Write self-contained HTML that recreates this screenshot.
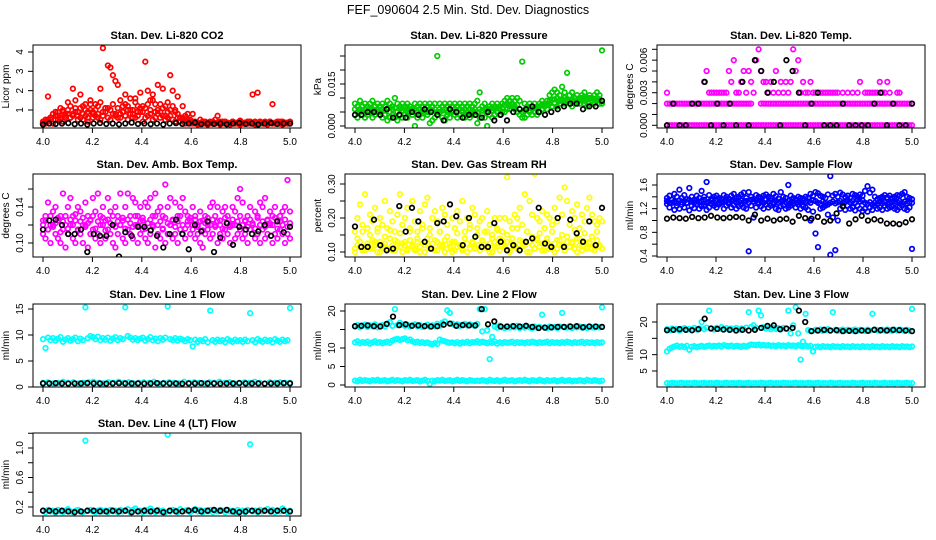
<!DOCTYPE html>
<html><head><meta charset="utf-8"><style>
html,body{margin:0;padding:0;background:#fff;}
svg{display:block;font-family:"Liberation Sans",sans-serif;}
</style></head><body>
<svg id="chart" width="936" height="540" viewBox="0 0 936 540" xmlns="http://www.w3.org/2000/svg">
<rect width="936" height="540" fill="#fff"/>
<text x="468" y="14" text-anchor="middle" font-size="12.5">FEF_090604  2.5 Min. Std. Dev. Diagnostics</text>
</svg>
<script>
// ---- data (x runs evenly 4.0 -> 5.0 over each array) ----
const xTicks = [4.0, 4.2, 4.4, 4.6, 4.8, 5.0];
const xTickLabels = ["4.0", "4.2", "4.4", "4.6", "4.8", "5.0"];

const co2RedA = [0.3,0.4,1.7,0.5,0.3,0.9,0.5,1.1,0.4,0.8,1.4,0.6,2.1,1.5,0.7,
1.8,0.5,1.0,0.4,1.5,0.8,1.3,0.6,2.1,4.2,1.1,3.3,3.2,2.8,2.5,
2.3,0.8,1.2,1.8,1.0,1.6,0.6,1.4,0.9,1.9,1.2,3.5,2.0,1.5,1.8,
0.9,2.3,1.3,2.1,0.7,1.4,2.8,2.0,1.0,1.7,0.6,1.2,0.5,0.8,0.4,
0.8,0.4,0.3,0.5,0.3,0.4,0.3,0.4,0.3,0.5,0.7,0.4,0.3,0.4,0.3,
0.3,0.4,0.3,0.3,0.4,0.3,0.3,0.4,0.3,1.8,0.4,1.9,0.4,0.3,0.4,
0.3,0.4,1.3,0.3,0.4,0.3,0.4,0.3,0.3,0.4];
const co2RedB = [0.4,0.3,0.5,0.6,0.3,0.7,0.9,0.5,1.0,0.6,0.8,1.2,0.7,0.9,0.5,1.1,0.8,1.3,0.6,1.0,0.9,0.7,1.2,0.5,0.9,1.1,0.6,1.0,0.8,0.7,
1.1,0.6,0.9,1.3,0.5,1.0,0.8,0.6,1.2,0.9,0.4,1.1,0.7,1.0,0.5,1.3,0.8,0.6,1.1,0.5,0.9,0.7,1.2,0.4,0.8,0.6,0.5,0.7,0.4,0.5,
0.3,0.35,0.25,0.3,0.4,0.3,0.25,0.35,0.3,0.3,0.35,0.25,0.3,0.4,0.3,0.25,0.3,0.35,0.3,0.25,0.3,0.35,0.3,0.4,0.3,0.25,0.3,0.35,0.3,0.3,0.25,0.35,0.3,0.3,0.4,0.3,0.25,0.3,0.35,0.3];
const co2RedC = [0.3,0.5,0.4,0.6,0.8,0.5,0.7,0.6,0.9,0.7,1.0,0.6,0.8,1.1,0.9,0.6,1.2,0.7,0.9,1.3,0.6,1.0,0.8,1.4,0.7,0.9,1.1,0.5,1.3,0.8,
0.6,1.5,0.9,0.7,1.2,0.8,1.0,1.6,0.7,1.1,0.9,0.6,1.3,0.8,1.5,0.6,1.0,0.9,0.7,1.2,0.6,1.0,0.5,0.9,0.6,0.4,0.6,0.3,0.5,0.3,
0.4,0.3,0.35,0.3,0.4,0.3,0.35,0.3,0.4,0.3,0.35,0.3,0.4,0.3,0.35,0.3,0.4,0.3,0.35,0.45,0.3,0.35,0.3,0.4,0.3,0.35,0.3,0.4,0.3,0.35,0.3,0.4,0.3,0.35,0.3,0.4,0.3,0.35,0.3,0.3];
const co2Black = [0.25,0.3,0.28,0.3,0.32,0.27,0.3,0.25,0.3,0.33,0.28,0.3,0.26,0.3,0.35,0.28,0.3,0.27,0.3,0.25,0.3,0.32,0.28,0.3,0.35,0.27,0.3,0.28,0.3,0.26,0.3,0.33,0.28,0.3,0.25,0.3,0.32,0.28,0.3,0.3];

const presA = [.008,.007,.009,.007,.008,.007,.008,.009,.007,.008,.007,.008,.007,.009,.008,.007,.010,.008,.007,.008,
.007,.008,.007,.006,.008,.007,.008,.007,.008,.007,.008,.007,.008,.025,.008,.007,.008,.007,.008,.007,
.008,.007,.008,.007,.008,.007,.008,.007,.008,.009,.012,.007,.008,.006,.007,.008,.007,.008,.007,.008,
.009,.010,.009,.010,.009,.010,.009,.023,.008,.007,.008,.007,.008,.007,.008,.009,.008,.009,.011,.012,
.013,.012,.011,.014,.012,.019,.011,.012,.010,.011,.010,.011,.012,.010,.011,.010,.011,.012,.011,.027];
const presB = [.004,.003,.005,.004,.003,.004,.005,.003,.004,.005,.004,.003,.004,.002,.003,.004,.003,.002,.004,.003,
.004,.003,.005,.004,.000,.003,.004,.003,.005,.004,.001,.002,.003,.004,.005,.003,.002,.004,.003,.005,
.004,.003,.004,.005,.003,.004,.003,.004,.005,.001,.003,.004,.003,.000,.004,.003,.004,.005,.004,.005,
.005,.006,.006,.007,.006,.005,.004,.003,.003,.004,.005,.004,.005,.004,.005,.006,.007,.006,.008,.007,
.008,.007,.008,.009,.008,.009,.008,.007,.008,.009,.008,.009,.008,.007,.008,.009,.008,.009,.008,.008];
const presC = [.006,.005,.006,.0055,.006,.005,.0065,.006,.0055,.006,.005,.006,.0055,.006,.005,.006,.0065,.005,.006,.0055,
.006,.005,.006,.0055,.006,.005,.006,.0055,.006,.005,.006,.0055,.006,.005,.006,.0055,.006,.005,.006,.0055,
.006,.005,.006,.0055,.006,.005,.006,.0055,.006,.005,.006,.0055,.006,.005,.006,.0055,.006,.005,.006,.0065,
.0075,.008,.0075,.008,.007,.0075,.006,.005,.0055,.006,.0055,.006,.0065,.006,.007,.0075,.008,.0075,.009,.0095,
.0095,.01,.009,.0095,.01,.0095,.009,.0095,.01,.009,.0095,.01,.009,.0095,.01,.009,.0095,.01,.0095,.009];
const presBlack = [.004,.004,.005,.005,.004,.006,.003,.004,.003,.005,.004,.006,.005,.004,.002,.006,.005,.003,.004,.004,.003,.005,.002,.004,.002,.005,.006,.006,.007,.005,.004,.005,.006,.007,.008,.008,.006,.007,.007,.009];

const tempA = [0,0,0,0,0,0,0,0,0,0,0,0,0,0,0,0,0,0,0,0,
0,0,0,0,0,0,0,0,0,0,0,0,0,0,0,0,0,0,0,0,
0,0,0,0,0,0,0,0,0,0,0,0,0,0,0,0,0,0,0,0,
0,0,0,0,0,0,0,0,0,0,0,0,0,0,0,0,0,0,0,0,
0,0,0,0,0,0,0,0,0,0,0,0,0,0,0,0,0,0,0,0];
const tempB = [.002,.002,.002,.002,.002,.002,.002,.002,.002,.002,.002,.002,.002,.002,.002,.002,.002,.002,.002,.002,
.002,.002,.002,.002,.002,.002,.002,.002,.002,.002,.002,.002,.002,.002,.002,null,null,null,.002,.002,
.002,.002,.002,.002,.002,.002,.002,.002,.002,.002,.002,.002,.002,.002,.002,.002,.002,.002,.002,.002,
.002,.002,.002,.002,.002,.002,.002,.002,.002,.002,.002,.002,.002,.002,.002,.002,.002,.002,.002,.002,
.002,.002,.002,.002,.002,.002,.002,.002,.002,.002,.002,.002,.002,.002,.002,.002,.002,.002,.002,.002];
const tempC = [.003,null,null,null,null,null,null,null,null,null,
null,null,null,null,null,.004,.005,.003,.003,.003,
.003,.003,.003,.003,.003,.005,.004,.006,.003,.003,
.004,.005,.003,.005,.004,.003,.006,.007,.005,.004,
.004,.003,.004,.003,.005,.003,.004,.003,.004,.003,
.004,.007,.005,.006,.003,.004,.003,.003,.004,.003,
.003,.003,.003,.003,.003,.003,.003,.003,.003,.003,
null,.003,null,.003,null,.003,null,.003,.004,null,
.003,.003,.003,.003,.003,.003,.004,.003,.003,.004,
.003,null,null,.003,.003,null,null,null,null,null];
const tempBlack = [0,.002,0,0,.002,.002,.004,0,.002,0,.002,0,.004,0,.006,.005,.003,.004,0,.006,.005,.003,0,.002,.003,0,0,0,.002,0,0,0,0,.002,.003,0,.002,0,0,.002];

const ambA = [.125,.13,.145,.12,.135,.14,.125,.13,.155,.12,.14,.15,.13,.125,.14,.135,.12,.145,.13,.125,
.15,.135,.155,.13,.14,.125,.15,.135,.12,.14,.13,.155,.125,.14,.155,.13,.15,.145,.13,.14,
.125,.145,.14,.15,.13,.155,.135,.14,.13,.165,.14,.15,.125,.145,.13,.14,.15,.135,.13,.125,
.14,.13,.12,.135,.125,.13,.12,.14,.145,.13,.14,.125,.135,.14,.13,.12,.14,.135,.15,.16,
.145,.125,.13,.14,.12,.135,.13,.145,.14,.15,.125,.135,.13,.14,.125,.13,.135,.14,.17,.135];
const ambB = [.11,.105,.115,.1,.12,.11,.105,.1,.115,.095,.11,.12,.105,.1,.115,.11,.1,.12,.095,.11,
.115,.105,.11,.1,.12,.105,.115,.11,.1,.095,.11,.12,.105,.1,.115,.11,.105,.12,.1,.11,
.115,.105,.1,.11,.12,.095,.11,.105,.115,.1,.11,.12,.105,.11,.1,.115,.11,.105,.12,.11,
.115,.105,.11,.1,.095,.11,.115,.105,.11,.12,.1,.11,.105,.115,.11,.1,.12,.105,.11,.115,
.105,.11,.1,.115,.12,.105,.11,.1,.115,.105,.11,.12,.1,.11,.105,.115,.11,.1,.11,.105];
const ambC = [.12,.125,.115,.13,.118,.122,.128,.112,.124,.13,.116,.126,.12,.132,.114,.124,.128,.118,.122,.126,
.13,.116,.124,.12,.128,.114,.126,.122,.13,.118,.124,.12,.128,.116,.126,.122,.118,.13,.12,.124,
.128,.116,.122,.126,.118,.13,.12,.124,.116,.128,.122,.12,.126,.118,.124,.13,.12,.116,.124,.128,
.12,.126,.118,.124,.114,.122,.128,.12,.126,.118,.124,.12,.116,.128,.122,.118,.126,.12,.124,.13,
.12,.124,.118,.126,.122,.116,.128,.12,.124,.118,.126,.122,.12,.128,.116,.124,.12,.126,.118,.122];
const ambBlack = [.115,.125,.126,.12,.11,.11,.115,.09,.11,.108,.108,.12,.085,.112,.108,.118,.118,.114,.108,.095,.11,.126,.11,.093,.12,.113,.124,.09,.106,.122,.098,.118,.115,.11,.113,.12,.108,.124,.112,.118];

const rhLow = [.11,.12,.13,.105,.115,.125,.11,.135,.12,.1,.13,.115,.125,.11,.14,.12,.105,.13,.115,.125,
.12,.105,.135,.115,.11,.13,.1,.125,.12,.14,.11,.125,.105,.13,.12,.115,.135,.11,.125,.1,
.13,.115,.12,.105,.14,.125,.11,.13,.115,.12,.105,.135,.12,.11,.125,.1,.13,.115,.14,.12,
.115,.13,.105,.125,.12,.11,.135,.115,.125,.1,.13,.12,.11,.14,.115,.125,.105,.13,.12,.11,
.125,.11,.135,.12,.105,.13,.115,.125,.11,.14,.12,.105,.13,.115,.125,.11,.12,.135,.115,.11];
const rhMid = [.1,.14,.115,.16,.105,.125,.15,.11,.13,.17,.1,.12,.145,.11,.165,.105,.135,.12,.155,.1,
.13,.11,.16,.12,.105,.14,.115,.17,.1,.125,.15,.11,.135,.105,.16,.12,.1,.145,.115,.13,
.105,.155,.12,.11,.14,.1,.17,.125,.11,.15,.105,.13,.12,.16,.1,.14,.115,.165,.105,.135,
.12,.15,.1,.14,.115,.17,.105,.13,.12,.16,.1,.145,.11,.135,.155,.105,.125,.14,.11,.16,
.1,.135,.12,.15,.105,.145,.115,.13,.165,.1,.14,.12,.155,.11,.13,.145,.105,.16,.12,.11];
const rhHigh = [.16,.2,.24,.18,.27,.17,.21,.19,.23,.16,.2,.18,.25,.17,.22,.19,.16,.21,.27,.18,
.2,.23,.17,.25,.19,.16,.22,.18,.24,.26,.17,.2,.22,.19,.16,.23,.21,.18,.24,.2,
.17,.22,.19,.25,.16,.2,.18,.23,.21,.17,.19,.2,.16,.22,.18,.15,.2,.17,.2,.16,
.2,.32,.19,.17,.21,.2,.23,.18,.27,.16,.25,.21,.33,.2,.19,.22,.17,.21,.2,.18,
.23,.19,.26,.21,.29,.25,.18,.22,.2,.24,.17,.21,.19,.23,.26,.21,.19,.18,.2,.19];
const rhBlack = [.175,.115,.115,.195,.12,.105,.11,.235,.16,.23,.19,.13,.11,.185,.19,.24,.205,.12,.2,.145,.115,.115,.185,.13,.105,.12,.105,.13,.14,.23,.125,.115,.2,.115,.195,.155,.13,.19,.12,.23];

const sfA = [1.38,1.42,1.35,1.45,1.4,1.52,1.38,1.43,1.36,1.55,1.4,1.35,1.42,1.38,1.5,1.4,1.65,1.43,1.37,1.4,
1.42,1.38,1.36,1.43,1.4,1.37,1.42,1.45,1.38,1.4,1.44,1.47,1.38,1.48,1.4,1.36,1.43,1.4,1.38,1.42,
1.44,1.4,1.38,1.45,1.41,1.37,1.48,1.4,1.38,1.6,1.42,1.38,1.36,1.4,1.38,1.37,1.4,1.38,1.45,1.42,
1.48,1.46,1.42,1.4,1.38,1.44,1.75,1.42,1.45,1.4,1.47,1.44,1.4,1.42,1.38,1.45,1.43,1.4,1.44,1.42,
1.5,1.58,1.47,1.52,1.4,1.36,1.38,1.4,1.43,1.39,1.42,1.38,1.4,1.43,1.42,1.45,1.48,1.4,1.38,1.36];
const sfB = [1.28,1.22,1.3,1.18,1.25,1.2,1.27,1.22,1.3,1.17,1.25,1.21,1.28,1.2,1.24,1.26,1.18,1.22,1.28,1.25,
1.22,1.27,1.3,1.2,1.25,1.28,1.22,1.26,1.2,1.24,1.27,1.22,1.2,0.48,1.25,1.05,1.22,1.28,1.24,1.2,
1.27,1.22,1.25,1.28,1.2,1.18,1.24,1.26,1.2,1.22,1.25,1.28,1.22,1.27,1.2,1.24,1.22,1.18,1.0,1.15,
0.78,0.55,1.2,1.22,1.25,1.1,0.42,1.05,0.5,1.0,1.2,1.24,1.18,1.25,1.2,1.22,1.17,1.25,1.2,1.16,
1.2,1.15,1.22,1.18,1.25,1.2,1.22,1.18,1.25,1.2,1.22,1.24,1.2,1.18,1.22,1.25,1.2,1.18,1.22,0.52];
const sfC = [1.33,1.3,1.35,1.32,1.3,1.34,1.31,1.33,1.3,1.35,1.32,1.3,1.34,1.31,1.33,1.35,1.3,1.32,1.34,1.31,
1.33,1.3,1.35,1.32,1.34,1.31,1.33,1.35,1.3,1.32,1.34,1.31,1.33,1.3,1.35,1.32,1.34,1.31,1.33,1.3,
1.35,1.32,1.34,1.31,1.33,1.3,1.32,1.34,1.31,1.33,1.3,1.32,1.34,1.31,1.3,1.33,1.31,1.32,1.3,1.34,
1.33,1.3,1.28,1.32,1.3,1.27,1.3,1.32,1.29,1.31,1.33,1.3,1.32,1.34,1.31,1.33,1.3,1.35,1.32,1.34,
1.3,1.28,1.31,1.27,1.3,1.28,1.32,1.29,1.31,1.28,1.3,1.32,1.29,1.31,1.33,1.3,1.32,1.29,1.31,1.3];
const sfBlack = [1.03,1.05,1.04,1.03,1.06,1.04,1.05,1.08,1.05,1.04,1.05,1.06,1.05,1.0,1.1,1.0,1.03,1.0,1.02,1.03,0.98,1.08,1.04,1.03,1.06,0.98,1.0,1.12,1.24,0.95,1.02,1.08,1.0,1.02,1.0,0.95,0.95,0.94,0.97,1.02];

const l1Main = [9.2,7.5,9.5,9.0,9.4,8.9,9.3,9.6,8.7,9.1,9.4,8.9,9.2,9.5,8.8,9.3,9.0,15.3,9.4,9.8,
9.6,9.2,9.7,9.0,9.4,9.1,9.5,8.9,9.3,9.6,9.0,9.4,9.2,15.3,9.8,9.5,9.1,9.4,9.0,9.3,
9.5,8.9,9.2,9.6,9.0,9.3,8.8,9.4,9.1,9.5,15.5,9.2,9.0,9.4,8.9,9.3,9.1,8.8,9.2,9.0,
7.8,9.1,8.7,9.0,8.8,9.2,8.6,14.7,9.0,8.7,9.1,8.8,9.0,8.6,9.2,8.9,8.7,9.1,8.8,9.0,
8.7,9.1,8.8,14.2,9.0,8.6,9.2,8.9,8.7,9.1,8.8,9.0,8.6,9.2,8.9,8.7,9.1,8.8,9.0,15.2];
const l1Low = [0.8,0.9,0.7,0.8,1.0,0.8,0.9,0.7,0.8,0.9,1.0,0.8,0.7,0.9,0.8,1.0,0.8,0.9,0.7,0.8,0.9,0.8,1.0,0.7,0.8,0.9,0.8,0.7,1.0,0.8,0.9,0.8,0.7,0.9,0.8,1.0,0.8,0.9,0.7,0.8,0.9,0.8,1.0,0.8,0.7,0.9,0.8,0.9,0.8,0.8];
const l1Black = [0.7,0.7,0.75,0.7,0.65,0.7,0.7,0.75,0.7,0.7,0.65,0.7,0.75,0.7,0.7,0.7,0.65,0.7,0.75,0.7,0.7,0.7,0.65,0.7,0.7,0.75,0.7,0.7,0.65,0.7,0.7,0.75,0.7,0.7,0.7,0.65,0.7,0.7,0.75,0.7];

const l2Top = [15.8,16.2,15.6,16.0,16.3,15.7,16.1,15.9,16.4,15.6,16.0,16.2,15.8,16.5,17.0,16.0,20.5,16.2,16.8,16.4,
16.0,16.3,15.8,16.1,16.4,15.9,16.2,15.7,16.0,16.3,15.8,16.1,15.9,16.5,16.0,16.8,17.2,20.2,19.5,16.6,
16.2,16.4,16.0,16.3,16.5,16.1,16.4,16.2,16.0,16.5,20.5,14.5,20.5,14.8,7.0,13.0,15.8,15.5,16.0,15.6,
15.4,15.8,15.5,15.9,15.6,16.0,15.4,15.7,15.5,15.9,15.6,15.3,15.8,15.5,15.7,19.0,15.6,15.4,15.8,15.5,
15.7,15.4,15.8,19.5,15.6,15.5,15.9,15.4,15.7,15.6,15.8,15.5,15.7,15.4,15.8,15.6,15.5,15.7,15.6,21.0];
const l2Mid = [11.5,11.8,11.3,11.6,11.4,11.7,11.2,11.5,11.8,11.4,11.6,11.3,11.5,11.7,11.4,12.0,12.3,12.5,12.2,12.4,
12.6,12.1,12.3,11.8,11.5,11.7,11.4,11.6,11.3,11.5,11.2,11.0,11.3,11.1,12.3,12.0,11.8,11.6,11.4,11.5,
11.3,11.6,11.2,11.5,11.4,11.7,11.3,11.6,11.5,11.8,11.4,11.7,11.5,11.3,11.6,11.4,11.7,11.2,11.5,11.3,
11.6,11.4,11.5,11.7,11.3,11.6,11.4,11.5,11.3,11.6,11.4,11.7,11.5,11.3,11.6,11.4,11.5,11.7,11.3,11.6,
11.4,11.5,11.3,11.6,11.4,11.7,11.5,11.3,11.6,11.4,11.5,11.7,11.3,11.6,11.4,11.5,11.3,11.6,11.4,11.5];
const l2Low = [1.2,1.0,1.4,1.1,1.3,1.2,1.0,1.3,1.2,1.4,1.1,1.2,1.3,1.0,1.2,1.4,1.1,1.3,1.2,1.0,1.3,1.2,1.4,1.1,1.2,1.3,1.0,1.2,1.4,1.1,0.3,1.2,1.0,1.3,1.2,1.4,1.1,1.2,1.3,1.0,1.2,1.4,1.1,1.3,1.2,1.0,1.3,1.2,1.1,1.2,
1.1,1.3,1.2,1.0,1.4,1.2,1.1,1.3,1.0,1.2,1.4,1.1,1.2,1.3,1.0,1.2,1.3,1.1,1.4,1.2,1.0,1.3,1.2,1.1,1.4,1.2,1.0,1.3,1.1,1.2,1.3,1.0,1.2,1.4,1.1,1.2,1.3,1.0,1.2,1.1,1.3,1.2,1.0,1.4,1.2,1.1,1.3,1.2,1.0,1.2];
const l2Black = [15.9,16.0,16.1,15.9,15.8,16.5,18.5,16.2,16.4,16.0,16.1,15.9,15.8,15.9,16.3,16.6,16.0,16.2,16.1,16.1,20.5,16.4,17.2,15.8,15.8,15.9,15.8,16.0,15.7,15.4,15.5,15.6,15.7,15.7,15.8,15.9,15.6,15.8,15.8,15.7];

const l3Top = [17.8,17.5,18.0,17.6,17.9,17.4,17.8,18.1,17.6,17.9,17.5,18.2,17.7,18.0,20.0,17.8,18.3,23.5,18.0,17.7,
18.2,17.9,18.4,17.8,18.1,17.6,18.0,17.9,18.2,17.7,18.0,17.8,18.3,23.0,18.5,19.0,18.2,23.5,22.0,18.4,
18.0,18.2,17.8,18.3,17.9,18.1,17.7,18.2,17.9,23.5,16.5,19.0,24.5,16.5,8.5,14.0,22.5,17.5,17.3,11.0,
17.6,17.4,17.7,17.3,17.5,17.8,17.4,23.0,17.6,17.3,17.5,17.7,17.4,17.6,17.3,17.5,17.7,17.4,17.6,17.5,
17.3,17.6,17.4,22.5,17.7,17.5,17.3,17.6,17.4,17.7,17.5,17.3,17.6,17.4,17.7,17.5,17.3,17.6,17.4,24.0];
const l3Mid = [11.0,11.8,12.2,12.5,12.8,12.4,12.6,12.3,12.7,11.5,12.4,12.6,12.3,12.5,12.7,12.4,12.6,12.8,12.5,12.7,
12.6,12.8,12.5,12.9,12.7,12.6,12.8,12.5,12.7,12.6,12.4,12.7,12.5,12.8,13.1,13.0,12.9,13.1,12.8,13.0,
12.8,12.9,12.7,12.8,12.6,12.9,12.7,12.8,12.6,12.9,12.7,12.8,12.6,12.9,12.7,12.6,12.8,12.5,12.7,11.0,
12.4,12.5,12.3,12.6,12.4,12.5,12.3,12.6,12.4,12.5,12.3,12.6,12.4,12.5,12.3,12.6,12.4,12.5,12.3,12.6,
12.4,12.5,12.3,12.6,12.4,12.5,12.3,12.6,12.4,12.5,12.3,12.6,12.4,12.5,12.3,12.6,12.4,12.5,12.3,12.5];
const l3Low = [1.3,1.2,1.4,1.3,1.2,1.3,1.4,1.2,1.3,1.3,1.2,1.4,1.3,1.2,1.3,1.4,1.2,1.3,1.3,1.2,1.4,1.3,1.2,1.3,1.4,1.2,1.3,1.3,1.2,1.4,1.3,1.2,1.3,1.4,1.2,1.3,1.3,1.2,1.4,1.3,1.2,1.3,1.4,1.2,1.3,1.3,1.2,1.4,1.3,1.3,
1.2,1.3,1.4,1.2,1.3,1.3,1.2,1.4,1.3,1.2,1.3,1.4,1.2,1.3,1.3,1.2,1.4,1.3,1.2,1.3,1.4,1.2,1.3,1.3,1.2,1.4,1.3,1.2,1.3,1.4,1.2,1.3,1.3,1.2,1.4,1.3,1.2,1.3,1.4,1.2,1.3,1.3,1.2,1.4,1.3,1.2,1.3,1.4,1.2,1.3];
const l3Black = [17.5,17.6,17.8,17.6,17.5,17.8,21.0,18.0,17.9,17.7,17.6,17.4,17.6,17.4,17.6,18.2,18.8,19.0,17.8,18.0,18.2,23.5,20.0,17.2,17.4,17.6,17.4,17.5,17.2,17.3,17.2,17.4,17.3,17.6,17.5,17.4,17.6,17.5,17.4,17.2];

const l4Main = [0.15,0.13,0.16,0.14,0.15,0.12,0.16,0.14,0.13,0.15,0.17,0.14,0.13,0.15,0.16,0.14,0.13,1.10,0.15,0.16,
0.14,0.13,0.15,0.16,0.14,0.15,0.13,0.16,0.14,0.15,0.13,0.16,0.14,0.15,0.17,0.13,0.16,0.18,0.14,0.15,
0.13,0.16,0.14,0.18,0.15,0.13,0.16,0.14,0.15,0.13,1.18,0.14,0.16,0.15,0.13,0.17,0.14,0.15,0.16,0.13,
0.15,0.17,0.14,0.16,0.13,0.15,0.14,0.16,0.13,0.15,0.14,0.16,0.15,0.13,0.16,0.14,0.15,0.13,0.16,0.14,
0.15,0.13,0.16,1.05,0.14,0.15,0.13,0.16,0.14,0.15,0.17,0.14,0.16,0.13,0.15,0.14,0.18,0.15,0.13,0.15];
const l4Black = [0.15,0.15,0.14,0.15,0.14,0.13,0.14,0.15,0.15,0.14,0.14,0.15,0.14,0.15,0.13,0.14,0.15,0.14,0.15,0.13,0.15,0.14,0.14,0.15,0.16,0.14,0.15,0.16,0.15,0.16,0.14,0.13,0.14,0.15,0.14,0.15,0.14,0.15,0.15,0.14];

// ---- layout ----
const SVGNS = "http://www.w3.org/2000/svg";
const svg = document.getElementById("chart");
const colL = [33, 345, 657], colR = [301, 613, 925], colX4 = [43, 355, 667], colX5 = [290, 602, 912];
const rowT = [45, 174, 304, 433], rowB = [128, 257, 387, 516];

const panels = [
 {name:"co2", title:"Stan. Dev. Li-820 CO2", ylab:"Licor ppm", c:0, r:0, v0:1, p0:110, v1:4, p1:52,
  ticks:[1,2,3,4], labels:["1","2","3","4"],
  series:[[co2RedB,"#ff0000"],[co2RedC,"#ff0000"],[co2RedA,"#ff0000"],[co2Black,"#000"]]},
 {name:"pressure", title:"Stan. Dev. Li-820 Pressure", ylab:"kPa", c:1, r:0, v0:0, p0:126, v1:0.015, p1:84,
  ticks:[0,0.005,0.01,0.015,0.02,0.025], labels:["0.000","","","0.015","",""],
  series:[[presA,"#00cc00"],[presB,"#00cc00"],[presC,"#00cc00"],[presBlack,"#000"]]},
 {name:"li820-temp", title:"Stan. Dev. Li-820 Temp.", ylab:"degrees C", c:2, r:0, v0:0, p0:125.3, v1:0.007, p1:49.3,
  ticks:[0,.001,.002,.003,.004,.005,.006,.007], labels:["0.000","","","0.003","","","0.006",""],
  series:[[tempA,"#ff00ff"],[tempB,"#ff00ff"],[tempC,"#ff00ff"],[tempBlack,"#000"]]},
 {name:"amb-box-temp", title:"Stan. Dev. Amb. Box Temp.", ylab:"degrees C", c:0, r:1, v0:0.10, p0:243, v1:0.14, p1:207,
  ticks:[0.10,0.12,0.14,0.16], labels:["0.10","","0.14",""],
  series:[[ambA,"#ff00ff"],[ambB,"#ff00ff"],[ambC,"#ff00ff"],[ambBlack,"#000"]]},
 {name:"gas-rh", title:"Stan. Dev. Gas Stream RH", ylab:"percent", c:1, r:1, v0:0.10, p0:252, v1:0.30, p1:184,
  ticks:[0.10,0.15,0.20,0.25,0.30], labels:["0.10","","0.20","","0.30"],
  series:[[rhHigh,"#ffff00"],[rhMid,"#ffff00"],[rhLow,"#ffff00"],[rhBlack,"#000"]]},
 {name:"sample-flow", title:"Stan. Dev. Sample Flow", ylab:"ml/min", c:2, r:1, v0:0.4, p0:256, v1:1.6, p1:185,
  ticks:[0.4,0.6,0.8,1.0,1.2,1.4,1.6], labels:["0.4","","0.8","","1.2","","1.6"],
  series:[[sfA,"#0000ff"],[sfC,"#0000ff"],[sfB,"#0000ff"],[sfBlack,"#000"]]},
 {name:"line1-flow", title:"Stan. Dev. Line 1 Flow", ylab:"ml/min", c:0, r:2, v0:0, p0:387, v1:15, p1:309,
  ticks:[0,5,10,15], labels:["0","5","10","15"],
  series:[[l1Main,"#00ffff"],[l1Low,"#00ffff"],[l1Black,"#000"]]},
 {name:"line2-flow", title:"Stan. Dev. Line 2 Flow", ylab:"ml/min", c:1, r:2, v0:0, p0:385, v1:20, p1:311,
  ticks:[0,5,10,15,20], labels:["0","5","10","","20"],
  series:[[l2Mid,"#00ffff"],[l2Low,"#00ffff"],[l2Top,"#00ffff"],[l2Black,"#000"]]},
 {name:"line3-flow", title:"Stan. Dev. Line 3 Flow", ylab:"ml/min", c:2, r:2, v0:5, p0:371, v1:20, p1:322,
  ticks:[5,10,15,20], labels:["5","10","","20"],
  series:[[l3Mid,"#00ffff"],[l3Low,"#00ffff"],[l3Top,"#00ffff"],[l3Black,"#000"]]},
 {name:"line4-flow", title:"Stan. Dev. Line 4 (LT) Flow", ylab:"ml/min", c:0, r:3, v0:0.2, p0:507, v1:1.0, p1:448,
  ticks:[0.2,0.4,0.6,0.8,1.0,1.2], labels:["0.2","","0.6","","1.0",""],
  series:[[l4Main,"#00ffff"],[l4Black,"#000"]]}
];

function mk(tag, attrs, parent) {
  const e = document.createElementNS(SVGNS, tag);
  for (const k in attrs) e.setAttribute(k, attrs[k]);
  parent.appendChild(e);
  return e;
}

panels.forEach(p => {
  const L = colL[p.c], R = colR[p.c], T = rowT[p.r], B = rowB[p.r];
  const xs = v => colX4[p.c] + (v - 4) * (colX5[p.c] - colX4[p.c]);
  const ys = v => p.p0 + (v - p.v0) * (p.p1 - p.p0) / (p.v1 - p.v0);
  const g = mk("g", {}, svg);
  
  

  const t = mk("text", {x:(L+R)/2, y:T-6, "text-anchor":"middle", "font-size":"11", "font-weight":"bold"}, g);
  t.textContent = p.title;
  
  

  const clip = mk("clipPath", {id:"clip-"+p.name}, g);
  mk("rect", {x:L, y:T, width:R-L, height:B-T}, clip);
  const pts = mk("g", {"clip-path":"url(#clip-"+p.name+")", fill:"none", "stroke-width":"1.7"}, g);
  
  
  p.series.forEach(([arr, col]) => {
    const n = arr.length;
    arr.forEach((v, i) => {
      if (v === null) return;
      const xv = 4 + i / (n - 1);
      const c = mk("circle", {cx:xs(xv).toFixed(1), cy:ys(v).toFixed(1), r:"2.3", stroke:col}, pts);
      
      
    });
  });

  const box = mk("rect", {x:L, y:T, width:R-L, height:B-T, fill:"none", stroke:"#000", "stroke-width":"1"}, g);
  
  

  xTicks.forEach((v, i) => {
    const x = xs(v);
    mk("line", {x1:x, x2:x, y1:B, y2:B+5, stroke:"#000"}, g);
    const tl = mk("text", {x:x, y:B+17, "text-anchor":"middle", "font-size":"10"}, g);
    tl.textContent = xTickLabels[i];
    
    
  });
  p.ticks.forEach((v, i) => {
    const y = ys(v);
    mk("line", {x1:L-5, x2:L, y1:y, y2:y, stroke:"#000"}, g);
    if (p.labels[i]) {
      const tl = mk("text", {x:L-10, y:y, "text-anchor":"middle", "font-size":"10", transform:"rotate(-90 "+(L-10)+" "+y+")"}, g);
      tl.textContent = p.labels[i];
      
      
    }
  });
  const ym = (T+B)/2, yx = L-24;
  const yt = mk("text", {x:yx, y:ym, "text-anchor":"middle", "font-size":"10", transform:"rotate(-90 "+yx+" "+ym+")"}, g);
  yt.textContent = p.ylab;
  
  
});
</script>
</body></html>
